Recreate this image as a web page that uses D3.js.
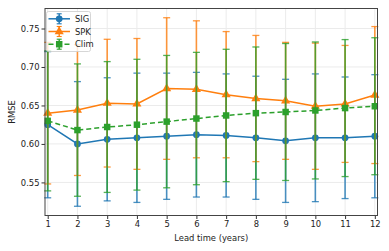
<!DOCTYPE html>
<html>
<head>
<meta charset="utf-8">
<script src="https://cdn.jsdelivr.net/npm/d3@7"></script>
<style>
  html, body { margin: 0; padding: 0; background: #fff; }
  svg { display: block; font-family: "DejaVu Sans", sans-serif; }
</style>
</head>
<body>
<svg id="chart" width="389" height="251"></svg>
<script>
// Lead times (years)
const leadTimes = [1, 2, 3, 4, 5, 6, 7, 8, 9, 10, 11, 12];

// RMSE means and error-bar half widths
const sigMean = [0.625, 0.600, 0.606, 0.608, 0.610, 0.612, 0.611, 0.608, 0.604, 0.608, 0.608, 0.610];
const sigErr  = [0.095, 0.081, 0.080, 0.084, 0.082, 0.081, 0.080, 0.080, 0.080, 0.083, 0.079, 0.080];

const spkMean = [0.640, 0.644, 0.653, 0.652, 0.672, 0.671, 0.664, 0.659, 0.656, 0.649, 0.652, 0.6635];
const spkErr  = [0.092, 0.085, 0.083, 0.085, 0.092, 0.089, 0.082, 0.082, 0.076, 0.082, 0.076, 0.089];

const climMean = [0.630, 0.618, 0.622, 0.625, 0.629, 0.633, 0.637, 0.640, 0.6415, 0.6435, 0.6466, 0.649];
const climErr  = [0.091, 0.086, 0.085, 0.085, 0.086, 0.086, 0.086, 0.086, 0.089, 0.089, 0.089, 0.089];

const yTicks = [0.55, 0.60, 0.65, 0.70, 0.75];

const series = [
  { name: "SIG",  mean: sigMean,  err: sigErr,  color: "#1f77b4", marker: "circle",   dash: null },
  { name: "SPK",  mean: spkMean,  err: spkErr,  color: "#ff7f0e", marker: "triangle", dash: null },
  { name: "Clim", mean: climMean, err: climErr, color: "#2ca02c", marker: "square",   dash: "5,3" }
];

const FONT = "8.4px";
const svg = d3.select("#chart");
const m = { left: 45, right: 11.5, top: 8.5, bottom: 35.5 };
const W = 389, H = 251;

const x = d3.scaleLinear().domain([0.909, 12.09]).range([m.left, W - m.right]);
const y = d3.scaleLinear().domain([0.507, 0.776]).range([H - m.bottom, m.top]);

const symbolFor = mk => mk === "circle" ? d3.symbolCircle : mk === "triangle" ? d3.symbolTriangle : d3.symbolSquare;
const sizeFor = mk => mk === "square" ? 42 : 36;

// ── Grid ──
const grid = svg.append("g");
grid.selectAll("line.gx").data(leadTimes).join("line")
  .attr("x1", d => x(d)).attr("x2", d => x(d))
  .attr("y1", m.top).attr("y2", H - m.bottom)
  .attr("stroke", "#ebebeb").attr("stroke-width", 1);
grid.selectAll("line.gy").data(yTicks).join("line")
  .attr("x1", m.left).attr("x2", W - m.right)
  .attr("y1", d => y(d)).attr("y2", d => y(d))
  .attr("stroke", "#ebebeb").attr("stroke-width", 1);

// ── Axes ──
const xAxis = svg.append("g")
  .attr("transform", `translate(0,${H - m.bottom})`)
  .call(d3.axisBottom(x).tickValues(leadTimes).tickSize(3.5).tickPadding(2.5).tickFormat(d3.format("d")));
const yAxis = svg.append("g")
  .attr("transform", `translate(${m.left},0)`)
  .call(d3.axisLeft(y).tickValues(yTicks).tickSize(3.5).tickPadding(2).tickFormat(d3.format(".2f")));

[xAxis, yAxis].forEach(a => {
  a.select(".domain").remove();
  a.selectAll(".tick line").attr("stroke", "#333");
  a.selectAll(".tick text").attr("fill", "#222").style("font-size", FONT).style("font-family", "DejaVu Sans");
});

// ── Series: error bars, lines, markers ──
const pts = s => leadTimes.map((t, i) => ({ t, v: s.mean[i], e: s.err[i] }));

series.forEach(s => {
  const g = svg.append("g");
  const data = pts(s);

  g.selectAll("line.eb").data(data).join("line")
    .attr("x1", d => x(d.t)).attr("x2", d => x(d.t))
    .attr("y1", d => y(d.v - d.e)).attr("y2", d => y(d.v + d.e))
    .attr("stroke", s.color).attr("stroke-width", 1.6).attr("opacity", 0.8);

  const capW = 3.5;
  [-1, 1].forEach(sign => {
    g.selectAll(null).data(data).join("line")
      .attr("x1", d => x(d.t) - capW).attr("x2", d => x(d.t) + capW)
      .attr("y1", d => y(d.v + sign * d.e)).attr("y2", d => y(d.v + sign * d.e))
      .attr("stroke", s.color).attr("stroke-width", 1.3).attr("opacity", 0.8);
  });

  g.append("path")
    .datum(data)
    .attr("fill", "none")
    .attr("stroke", s.color)
    .attr("stroke-width", 1.5)
    .attr("stroke-dasharray", s.dash)
    .attr("d", d3.line().x(d => x(d.t)).y(d => y(d.v)));

  g.selectAll("path.mk").data(data).join("path")
    .attr("transform", d => `translate(${x(d.t)},${y(d.v)})`)
    .attr("d", d3.symbol().type(symbolFor(s.marker)).size(sizeFor(s.marker)))
    .attr("fill", s.color);
});

// ── Frame ──
svg.append("rect")
  .attr("x", m.left).attr("y", m.top)
  .attr("width", W - m.right - m.left).attr("height", H - m.bottom - m.top)
  .attr("fill", "none").attr("stroke", "#444").attr("stroke-width", 1);

// ── Axis labels ──
svg.append("text")
  .attr("x", (m.left + W - m.right) / 2).attr("y", 240.5)
  .attr("text-anchor", "middle")
  .attr("fill", "#222")
  .style("font-size", FONT)
  .text("Lead time (years)");

svg.append("text")
  .attr("transform", `translate(15,${(m.top + H - m.bottom) / 2}) rotate(-90)`)
  .attr("text-anchor", "middle")
  .attr("fill", "#222")
  .style("font-size", FONT)
  .text("RMSE");

// ── Legend ──
const lg = svg.append("g").attr("transform", "translate(46.5,11.5)");
lg.append("rect")
  .attr("width", 44).attr("height", 40).attr("rx", 2)
  .attr("fill", "rgba(255,255,255,0.8)").attr("stroke", "#ccc").attr("stroke-width", 0.8);

series.forEach((s, i) => {
  const ly = 7.3 + i * 12.7;
  const row = lg.append("g").attr("transform", `translate(0,${ly})`);
  row.append("line").attr("x1", 2).attr("x2", 23.5).attr("y1", 0).attr("y2", 0)
    .attr("stroke", s.color).attr("stroke-width", 1.5).attr("stroke-dasharray", s.dash);
  row.append("line").attr("x1", 12.7).attr("x2", 12.7).attr("y1", -5).attr("y2", 5)
    .attr("stroke", s.color).attr("stroke-width", 1.4);
  [-5, 5].forEach(cy => row.append("line")
    .attr("x1", 10.2).attr("x2", 15.2).attr("y1", cy).attr("y2", cy)
    .attr("stroke", s.color).attr("stroke-width", 1.1));
  row.append("path").attr("transform", "translate(12.7,0)")
    .attr("d", d3.symbol().type(symbolFor(s.marker)).size(sizeFor(s.marker)))
    .attr("fill", s.color);
  row.append("text").attr("x", 28.5).attr("y", 3.1)
    .attr("fill", "#222").style("font-size", FONT).text(s.name);
});
</script>
</body>
</html>
